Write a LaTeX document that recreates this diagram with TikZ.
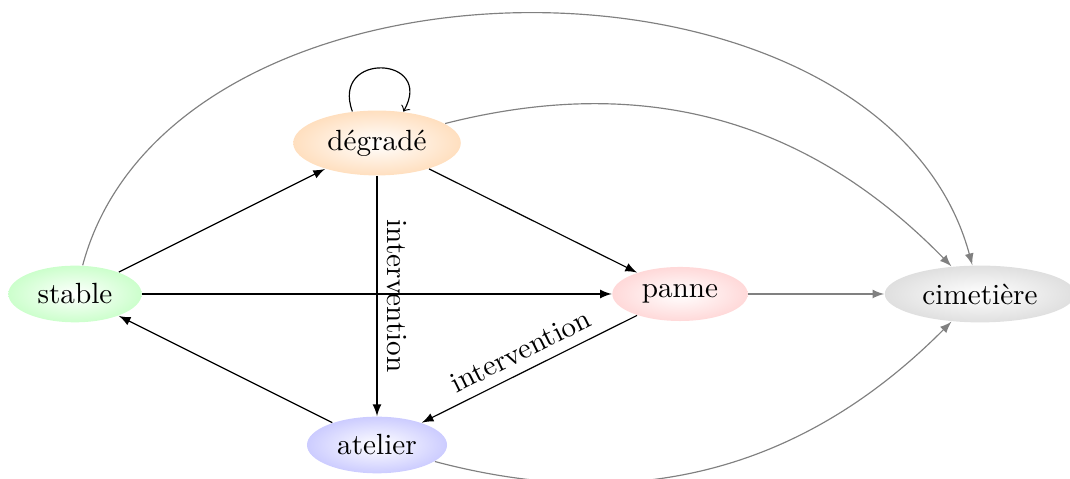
\documentclass[tikz,border=0pt]{standalone}
\usepackage{fontspec}
\usetikzlibrary{shapes.geometric,arrows}
\begin{document}
\begin{tikzpicture}[x=0.3425pt,y=0.3425pt,
  stnode/.style={ellipse, shading=radial, inner color=white, outer color=#1},
  blk/.style={-latex, black},
  gry/.style={-latex, gray}]
\useasboundingbox (0,0) rectangle (1070,479);
\node[stnode=green!20] (s) at (75,185) {stable};
\node[stnode=orange!25] (d) at (377,336) {dégradé};
\node[stnode=red!15] (p) at (680,185) {panne};
\node[stnode=blue!20] (a) at (377,34) {atelier};
\node[stnode=gray!25] (c) at (980,185) {cimetière};
\draw[blk] (s) -- (d);
\draw[blk] (s) -- (p);
\draw[blk] (d) -- (p);
\draw[blk] (d) -- node[midway,above,sloped] {intervention} (a);
\draw[blk] (p) -- node[midway,above,sloped] {intervention} (a);
\draw[blk] (a) -- (s);
\draw[->] (d.128) .. controls +(110:22pt) and +(60:22pt) .. (d.50);
\draw[gry] (s) to[bend left=75] (c);
\draw[gry] (d) to[bend left=30] (c);
\draw[gry] (a) to[bend right=30] (c);
\draw[gry] (p) -- (c);
\end{tikzpicture}
\end{document}
